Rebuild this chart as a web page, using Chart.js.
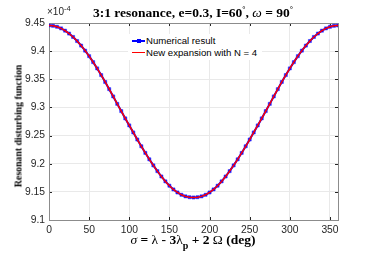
<!DOCTYPE html>
<html>
<head>
<meta charset="utf-8">
<script src="https://cdn.jsdelivr.net/npm/chart.js@4"></script>
<style>
  html, body { margin:0; padding:0; background:#fff; }
  #wrap { position:relative; width:374px; height:258px; overflow:hidden; }
  #c { position:absolute; left:0; top:0; }
  .t { position:absolute; white-space:nowrap; color:#000; }
  #title { left:193px; top:5px; transform:translateX(-50%); font:bold 13.5px "Liberation Serif", serif; }
  #title i { font-weight:normal; }
  #title sup { font-size:8px; vertical-align:5px; line-height:0; }
  #xlabel { left:193px; top:231.5px; transform:translateX(-50%); font:bold 13.5px "Liberation Serif", serif; }
  #xlabel .n { font-weight:normal; }
  #xlabel sub { font-size:10px; vertical-align:-5px; line-height:0; }
  #ylabel { left:18px; top:126px; transform:translate(-50%,-50%) rotate(-90deg); font:bold 9.8px "Liberation Serif", serif; }
  #expo { left:47px; top:6px; font:10px "Liberation Sans", Arial, sans-serif; color:#262626; }
  #expo sup { font-size:7.5px; vertical-align:4px; line-height:0; }
  #legend { position:absolute; left:128px; top:34px; width:134px; height:26px; background:#fff; }
  .row { position:absolute; left:0; height:12px; font:9.6px "Liberation Sans", Arial, sans-serif; color:#000; white-space:nowrap; }
  .sample { position:absolute; left:4px; top:5px; width:13px; height:2px; }
  .mk { position:absolute; left:8.5px; top:4px; width:4px; height:4px; background:#0000ff; }
  .lbl { position:absolute; left:18px; top:0px; line-height:12px; }
</style>
</head>
<body>
<div id="wrap">
  <canvas id="c" width="374" height="258"></canvas>
  <div id="legend">
    <div class="row" style="top:1px"><div class="sample" style="background:#0000ff"></div><div class="mk"></div><div class="lbl">Numerical result</div></div>
    <div class="row" style="top:12.7px"><div class="sample" style="background:#ff0000;height:1.5px"></div><div class="lbl">New expansion with N = 4</div></div>
  </div>
  <div class="t" id="title">3:1 resonance, e=0.3, I=60<sup>°</sup>, <i>ω</i> = 90<sup>°</sup></div>
  <div class="t" id="expo">×10<sup>-4</sup></div>
  <div class="t" id="ylabel">Resonant disturbing function</div>
  <div class="t" id="xlabel"><i class="n">σ</i> = <span class="n">λ</span> - 3<span class="n">λ</span><sub>p</sub> + 2 <span class="n">Ω</span> (deg)</div>
</div>
<script>
// sigma (deg)
const sigma = [0,5,10,15,20,25,30,35,40,45,50,55,60,65,70,75,80,85,90,95,100,105,110,115,120,125,130,135,140,145,150,155,160,165,170,175,180,
  185,190,195,200,205,210,215,220,225,230,235,240,245,250,255,260,265,270,275,280,285,290,295,300,305,310,315,320,325,330,335,340,345,350,355,360];
// Numerical result (x 1e-4)
const numerical = [9.4456,9.4450,9.4433,9.4404,9.4364,9.4313,9.4252,9.4180,9.4099,9.4009,9.3911,9.3805,9.3693,9.3575,9.3452,9.3325,9.3195,9.3063,9.2935,
  9.2805,9.2680,9.2555,9.2430,9.2310,9.2192,9.2078,9.1970,9.1868,9.1773,9.1686,9.1609,9.1543,9.1489,9.1448,9.1420,9.1405,9.1400,
  9.1405,9.1420,9.1448,9.1489,9.1543,9.1609,9.1686,9.1773,9.1868,9.1970,9.2078,9.2192,9.2310,9.2430,9.2555,9.2680,9.2805,9.2935,
  9.3063,9.3195,9.3325,9.3452,9.3575,9.3693,9.3805,9.3911,9.4009,9.4099,9.4180,9.4252,9.4313,9.4364,9.4404,9.4433,9.4450,9.4456];
// New expansion with N = 4 (x 1e-4)
const expansion = [9.4456,9.4450,9.4433,9.4404,9.4364,9.4313,9.4252,9.4180,9.4099,9.4009,9.3911,9.3805,9.3693,9.3575,9.3452,9.3325,9.3195,9.3063,9.2935,
  9.2805,9.2680,9.2555,9.2430,9.2310,9.2192,9.2078,9.1970,9.1868,9.1773,9.1686,9.1609,9.1543,9.1489,9.1448,9.1420,9.1405,9.1400,
  9.1405,9.1420,9.1448,9.1489,9.1543,9.1609,9.1686,9.1773,9.1868,9.1970,9.2078,9.2192,9.2310,9.2430,9.2555,9.2680,9.2805,9.2935,
  9.3063,9.3195,9.3325,9.3452,9.3575,9.3693,9.3805,9.3911,9.4009,9.4099,9.4180,9.4252,9.4313,9.4364,9.4404,9.4433,9.4450,9.4456];
const xTicks = [0,50,100,150,200,250,300,350];
const yTicks = [9.1,9.15,9.2,9.25,9.3,9.35,9.4,9.45];

const boxPlugin = {
  id:'box',
  beforeDatasetsDraw(chart){
    const {ctx, chartArea:a, scales} = chart;
    ctx.save();
    ctx.strokeStyle = '#262626';
    ctx.lineWidth = 1;
    ctx.beginPath();
    xTicks.forEach(v => {
      const px = Math.round(scales.x.getPixelForValue(v)) + 0.5;
      ctx.moveTo(px, a.bottom); ctx.lineTo(px, a.bottom - 3);
      ctx.moveTo(px, a.top); ctx.lineTo(px, a.top + 3);
    });
    yTicks.forEach(v => {
      const py = Math.round(scales.y.getPixelForValue(v)) + 0.5;
      ctx.moveTo(a.left, py); ctx.lineTo(a.left + 3, py);
      ctx.moveTo(a.right, py); ctx.lineTo(a.right - 3, py);
    });
    ctx.stroke();
    ctx.strokeStyle = '#8c8c8c';
    ctx.strokeRect(Math.round(a.left)+0.5, Math.round(a.top)+0.5, Math.round(a.right-a.left), Math.round(a.bottom-a.top));
    ctx.restore();
  }
};

const tickFont = {family:'"Liberation Sans", Arial, sans-serif', size:10.3};
new Chart(document.getElementById('c'), {
  type:'scatter',
  data:{
    datasets:[
      {
        label:'New expansion with N = 4',
        data: sigma.map((s,i)=>({x:s, y:expansion[i]})),
        showLine:true, borderColor:'#ff0000', borderWidth:1.5, pointRadius:0, order:0
      },
      {
        label:'Numerical result',
        data: sigma.map((s,i)=>({x:s, y:numerical[i]})),
        showLine:true, borderColor:'#0000ff', borderWidth:2,
        pointStyle:'rect', pointRadius:2.2, pointBackgroundColor:'#0000ff', pointBorderColor:'rgba(60,60,255,0.55)', pointBorderWidth:1, order:1
      }
    ]
  },
  options:{
    responsive:false, animation:false,
    layout:{padding:{left:0, right:36, top:23, bottom:0}},
    plugins:{legend:{display:false}, title:{display:false}, tooltip:{enabled:false}},
    scales:{
      x:{
        type:'linear', min:0, max:360,
        afterBuildTicks: s => { s.ticks = xTicks.map(v=>({value:v})); },
        afterFit: s => { s.height = 38; },
        border:{display:false},
        grid:{color:'#e9e9e9', lineWidth:1, drawTicks:false},
        ticks:{color:'#262626', font:tickFont, padding:4, maxRotation:0, autoSkip:false, callback:v=>String(v)}
      },
      y:{
        type:'linear', min:9.1, max:9.45,
        afterBuildTicks: s => { s.ticks = yTicks.map(v=>({value:v})); },
        afterFit: s => { s.width = 49; },
        border:{display:false},
        grid:{color:'#e9e9e9', lineWidth:1, drawTicks:false},
        ticks:{color:'#262626', font:tickFont, padding:4, autoSkip:false, callback:v=>String(Number(v.toFixed(2)))}
      }
    }
  },
  plugins:[boxPlugin]
});
</script>
</body>
</html>
